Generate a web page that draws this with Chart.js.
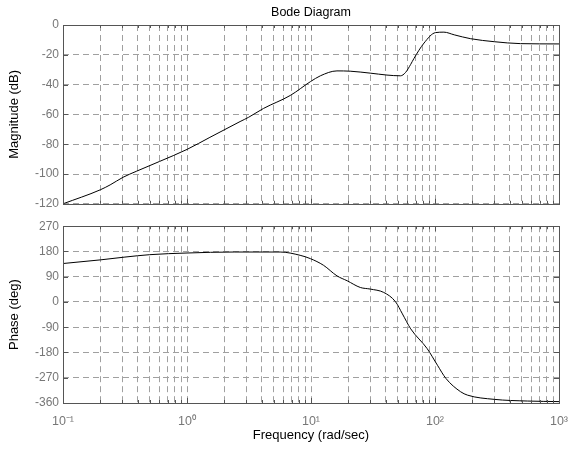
<!DOCTYPE html>
<html lang="en">
  <head>
    <meta charset="UTF-8" />
    <title>Bode Diagram</title>
    <script src="https://cdn.jsdelivr.net/npm/chart.js"></script>
    <style>
      body {
        margin: 0;
        background: #fff;
      }
      #wrap {
        position: relative;
        width: 569px;
        height: 455px;
      }
      canvas {
        position: absolute;
        left: 0;
      }
      #magChart {
        top: 0;
      }
      #phaseChart {
        top: 215px;
      }
    </style>
  </head>
  <body>
    <div id="wrap">
      <canvas id="magChart" width="569" height="215"></canvas>
      <canvas id="phaseChart" width="569" height="240"></canvas>
    </div>

    <script>
      // magnitude curve
      const magFreq = [0.1, 0.2, 0.24, 0.305, 0.39, 0.6, 1, 1.53, 2.68, 3.13, 4.14, 6.8, 9.9, 11.9, 16.2, 20.7, 30, 41, 52.7, 57.8, 63.7, 67.5, 81.6, 101, 118, 143, 194, 300, 490, 1000];
      const magDb = [-120, -110.6, -107.3, -102.2, -98.2, -91.6, -83.5, -75.4, -64.8, -62, -56, -47.3, -38, -34.1, -30.8, -31, -32.3, -33.6, -34.1, -31.9, -26.4, -22.6, -12.1, -5.1, -4.8, -6.6, -9.2, -11.2, -12.5, -12.7];

      // phase curve
      const phaseFreq = [0.1, 0.2, 0.316, 0.5, 1, 2.4, 5.64, 8.17, 9.9, 12.6, 16.2, 19.6, 25, 30, 38.6, 48, 54.6, 63.7, 86.5, 104.7, 122.5, 161, 183, 300, 556, 1000];
      const phaseDeg = [137, 150, 160, 168.5, 174.5, 178, 178, 166.3, 154.3, 130.9, 93, 75.4, 51.6, 46, 34, 1, -42.5, -95.7, -166.4, -225.5, -272.5, -320, -332, -347, -353, -355];

      const decades = [0.1, 1, 10, 100, 1000];
      const magTicks = [-120, -100, -80, -60, -40, -20, 0];
      const phaseTicks = [-360, -270, -180, -90, 0, 90, 180, 270];

      const sup = { "-": "\u207B", 0: "\u2070", 1: "\u00B9", 2: "\u00B2", 3: "\u00B3" };

      function logTicks() {
        const t = [];
        for (let i = 0; i < decades.length - 1; i++) {
          for (let k = 1; k < 10; k++) t.push(decades[i] * k);
        }
        t.push(decades[decades.length - 1]);
        return t;
      }

      function isDecade(v) {
        const l = Math.log10(v);
        return Math.abs(l - Math.round(l)) < 1e-9;
      }

      function decadeLabel(v) {
        const e = String(Math.round(Math.log10(v)));
        return "10" + e.split("").map((c) => sup[c]).join("");
      }

      // box around the plot plus inward ticks, MATLAB style
      const frame = {
        id: "frame",
        afterDatasetsDraw(chart) {
          const { ctx, chartArea: a, scales } = chart;
          ctx.save();
          ctx.strokeStyle = "#555";
          ctx.lineWidth = 1;
          ctx.beginPath();
          scales.x.ticks.forEach((t) => {
            const px = Math.round(scales.x.getPixelForValue(t.value)) + 0.5;
            const len = isDecade(t.value) ? 5 : 3;
            ctx.moveTo(px, a.bottom);
            ctx.lineTo(px, a.bottom - len);
            ctx.moveTo(px, a.top);
            ctx.lineTo(px, a.top + len);
          });
          scales.y.ticks.forEach((t) => {
            const py = Math.round(scales.y.getPixelForValue(t.value)) + 0.5;
            ctx.moveTo(a.left, py);
            ctx.lineTo(a.left + 5, py);
            ctx.moveTo(a.right, py);
            ctx.lineTo(a.right - 5, py);
          });
          ctx.stroke();
          ctx.strokeRect(
            Math.round(a.left) + 0.5,
            Math.round(a.top) + 0.5,
            Math.round(a.right - a.left),
            Math.round(a.bottom - a.top)
          );
          ctx.restore();
        },
      };

      Chart.defaults.font.family = "Arial, 'Liberation Sans', sans-serif";
      Chart.defaults.font.size = 11;
      Chart.defaults.color = "#000";

      const gridOpts = { color: "#a0a0a0", lineWidth: 1, drawTicks: false };
      const borderOpts = { display: false, dash: [6, 4] };

      function xScale(showLabels, height) {
        return {
          type: "logarithmic",
          min: 0.1,
          max: 1000,
          afterBuildTicks: (s) => {
            s.ticks = logTicks().map((v) => ({ value: v }));
          },
          afterFit: (s) => {
            s.height = height;
            s.paddingLeft = 0;
            s.paddingRight = 0;
          },
          grid: gridOpts,
          border: borderOpts,
          ticks: {
            display: showLabels,
            autoSkip: false,
            maxRotation: 0,
            color: "#777",
            padding: 11,
            font: { size: 12.5 },
            callback: (v) => (isDecade(v) ? decadeLabel(v) : ""),
          },
          title: {
            display: showLabels,
            text: "Frequency (rad/sec)",
            font: { size: 13 },
            padding: { top: 0, bottom: 12.2 },
          },
        };
      }

      function yScale(label, ticks) {
        return {
          min: ticks[0],
          max: ticks[ticks.length - 1],
          afterBuildTicks: (s) => {
            s.ticks = ticks.map((v) => ({ value: v }));
          },
          afterFit: (s) => {
            s.width = 63;
          },
          grid: gridOpts,
          border: borderOpts,
          ticks: { color: "#777", padding: 4, font: { size: 12 } },
          title: {
            display: true,
            text: label,
            font: { size: 13 },
            padding: { top: 6.2, bottom: 0 },
          },
        };
      }

      function lineData(xs, ys) {
        return xs.map((x, i) => ({ x: x, y: ys[i] }));
      }

      new Chart(document.getElementById("magChart"), {
        type: "line",
        data: {
          datasets: [
            {
              data: lineData(magFreq, magDb),
              borderColor: "#000",
              borderWidth: 1,
              pointRadius: 0,
              cubicInterpolationMode: "monotone",
            },
          ],
        },
        options: {
          responsive: false,
          animation: false,
          layout: { padding: { left: 0, right: 10, top: 0, bottom: 8 } },
          plugins: {
            legend: { display: false },
            tooltip: { enabled: false },
            title: {
              display: true,
              fullSize: false,
              text: "Bode Diagram",
              font: { size: 12.5, weight: "normal" },
              padding: { top: 5, bottom: 5 },
            },
          },
          scales: {
            x: xScale(false, 0),
            y: yScale("Magnitude (dB)", magTicks),
          },
        },
        plugins: [frame],
      });

      new Chart(document.getElementById("phaseChart"), {
        type: "line",
        data: {
          datasets: [
            {
              data: lineData(phaseFreq, phaseDeg),
              borderColor: "#000",
              borderWidth: 1,
              pointRadius: 0,
              cubicInterpolationMode: "monotone",
            },
          ],
        },
        options: {
          responsive: false,
          animation: false,
          layout: { padding: { left: 0, right: 10, top: 10, bottom: 0 } },
          plugins: {
            legend: { display: false },
            tooltip: { enabled: false },
          },
          scales: {
            x: xScale(true, 52),
            y: yScale("Phase (deg)", phaseTicks),
          },
        },
        plugins: [frame],
      });
    </script>
  </body>
</html>
